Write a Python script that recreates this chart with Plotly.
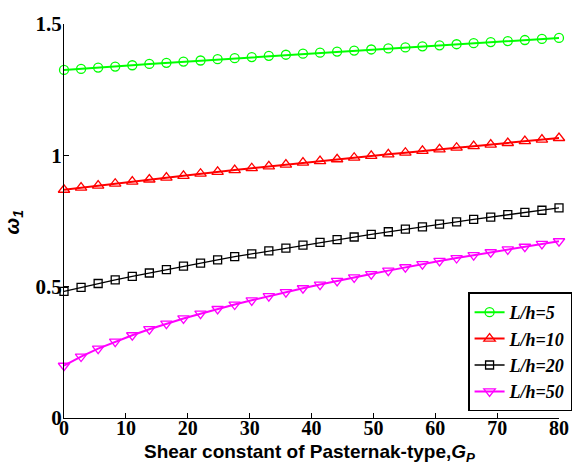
import numpy as np
import plotly.graph_objects as go

gp = np.linspace(0, 80, 30)

lh5 = [1.325, 1.329, 1.334, 1.338, 1.343, 1.348, 1.352, 1.357, 1.361, 1.366,
       1.370, 1.374, 1.379, 1.383, 1.387, 1.391, 1.395, 1.399, 1.403, 1.407,
       1.411, 1.415, 1.419, 1.423, 1.427, 1.431, 1.435, 1.439, 1.443, 1.447]
lh10 = [0.869, 0.877, 0.885, 0.892, 0.900, 0.908, 0.915, 0.922, 0.930, 0.937,
        0.944, 0.951, 0.958, 0.965, 0.972, 0.978, 0.985, 0.991, 0.998, 1.004,
        1.010, 1.017, 1.023, 1.029, 1.035, 1.041, 1.047, 1.054, 1.060, 1.066]
lh20 = [0.482, 0.497, 0.512, 0.526, 0.539, 0.552, 0.565, 0.578, 0.590, 0.602,
        0.614, 0.625, 0.636, 0.647, 0.658, 0.669, 0.679, 0.689, 0.699, 0.709,
        0.719, 0.728, 0.738, 0.747, 0.756, 0.765, 0.774, 0.783, 0.791, 0.800]
lh50 = [0.199, 0.234, 0.264, 0.291, 0.315, 0.338, 0.359, 0.379, 0.397, 0.415,
        0.432, 0.448, 0.464, 0.479, 0.494, 0.508, 0.522, 0.535, 0.548, 0.561,
        0.574, 0.586, 0.598, 0.609, 0.620, 0.631, 0.642, 0.652, 0.663, 0.673]

names = ["L/h=5", "L/h=10", "L/h=20", "L/h=50"]
series = [lh5, lh10, lh20, lh50]
colors = ["#00FF00", "#FF0000", "#000000", "#FF00FF"]
symbols = ["circle-open", "triangle-up-open", "square-open", "triangle-down-open"]
widths = [2, 2, 1.3, 2]
msizes = [9, 10, 8, 10]

x_ticks = [0, 10, 20, 30, 40, 50, 60, 70, 80]
y_ticks = [0, 0.5, 1, 1.5]
y_tick_text = ["0", "0.5", "1", "1.5"]

fig = go.Figure()
for name, ys, c, s, w, ms in zip(names, series, colors, symbols, widths, msizes):
    fig.add_trace(go.Scatter(
        x=gp, y=ys, mode="lines+markers", name="<b><i>" + name + "</i></b>",
        line=dict(color=c, width=w),
        marker=dict(symbol=s, size=ms, color=c, line=dict(color=c, width=1.3)),
        cliponaxis=False,
    ))

W, H = 584, 466
ml, mr, mt, mb = 63.5, 16.4, 20, 48.3
pw, ph = W - ml - mr, H - mt - mb

fig.update_layout(
    width=W, height=H,
    margin=dict(l=ml, r=mr, t=mt, b=mb, pad=0),
    paper_bgcolor="white", plot_bgcolor="white",
    showlegend=True,
    legend=dict(
        x=(475 - ml) / pw, y=((H - mb) - 291) / ph, xanchor="left", yanchor="top",
        bgcolor="white", bordercolor="black", borderwidth=1.5,
        font=dict(family="Liberation Serif", size=18, color="black"),
        itemwidth=30, tracegroupgap=0,
    ),
    xaxis=dict(
        range=[0, 80], tickvals=x_ticks, ticktext=["<b>%d</b>" % v for v in x_ticks],
        showline=True, linecolor="black", linewidth=1.2, mirror=False,
        ticks="inside", ticklen=5, tickcolor="black", tickwidth=1,
        showgrid=False, zeroline=False, ticklabelstandoff=-8,
        tickfont=dict(family="Liberation Serif", size=20, color="black"),
    ),
    yaxis=dict(
        range=[0, 1.5], tickvals=y_ticks, ticktext=["<b>%s</b>" % t for t in y_tick_text],
        showline=True, linecolor="black", linewidth=1.2, mirror=False,
        ticks="inside", ticklen=5, tickcolor="black", tickwidth=1,
        showgrid=False, zeroline=False, ticklabelstandoff=-3,
        tickfont=dict(family="Liberation Serif", size=21, color="black"),
    ),
    annotations=[
        dict(
            text="<b>Shear constant of Pasternak-type,<i>G</i><sub><i>P</i></sub></b>",
            xref="paper", yref="paper", x=(314 - ml) / pw, y=-(453 - (H - mb)) / ph,
            xanchor="center", yanchor="middle", showarrow=False,
            font=dict(family="Liberation Sans", size=19, color="black"),
        ),
        dict(
            text="<b><i>ω</i><sub><i>1</i></sub></b>",
            xref="paper", yref="paper", x=-(ml - 12) / pw, y=((H - mb) - 220) / ph,
            xanchor="center", yanchor="middle", showarrow=False, textangle=-90,
            font=dict(family="Liberation Sans", size=20, color="black"),
        ),
    ],
)

fig.write_html("out.html")
